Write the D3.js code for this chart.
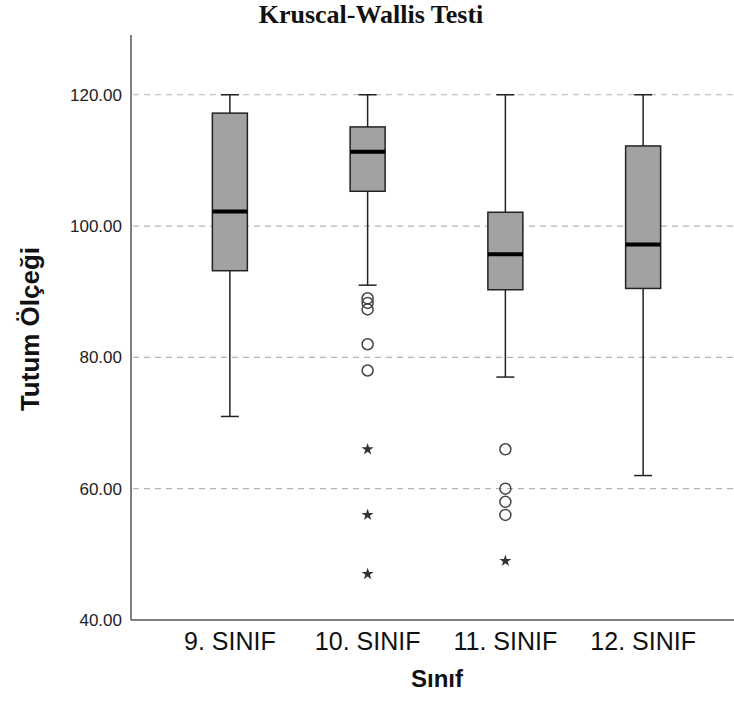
<!DOCTYPE html>
<html>
<head>
<meta charset="utf-8">
<script src="https://cdn.jsdelivr.net/npm/d3@7"></script>
<style>
  body { margin: 0; background: #fff; }
  svg { display: block; }
</style>
</head>
<body>
<div id="chart"></div>
<script>
// data
const categories = ['9. SINIF', '10. SINIF', '11. SINIF', '12. SINIF'];
const whiskerLow = [71, 91, 77, 62];
const q1 = [93.2, 105.3, 90.3, 90.5];
const medians = [102.2, 111.3, 95.7, 97.2];
const q3 = [117.2, 115.1, 102.1, 112.2];
const whiskerHigh = [120, 120, 120, 120];
const outliers = [[], [89, 88.3, 87.3, 82, 78], [66, 60, 58, 56], []];
const extremes = [[], [66, 56, 47], [49], []];
const yTicks = [40, 60, 80, 100, 120];

const width = 734, height = 719;
const svg = d3.select('#chart').append('svg')
    .attr('width', width)
    .attr('height', height);

const x = d3.scaleBand().domain(categories).range([161, 712]).padding(0);
const y = d3.scaleLinear().domain([40, 129.1]).range([620, 35]);
const boxW = 35, capW = 18;

// grid
svg.append('g').selectAll('line')
    .data(yTicks.slice(1))
    .enter().append('line')
    .attr('x1', 133).attr('x2', width)
    .attr('y1', d => y(d)).attr('y2', d => y(d))
    .attr('stroke', '#b4b4b4')
    .attr('stroke-width', 1.2)
    .attr('stroke-dasharray', '6,5');

// y axis
const yAxis = svg.append('g')
    .attr('transform', 'translate(131,0)')
    .call(d3.axisLeft(y).tickValues(yTicks).tickFormat(d3.format('.2f')).tickSize(0).tickPadding(9));
yAxis.select('.domain').remove();
yAxis.selectAll('text')
    .attr('font-family', 'Liberation Sans, Arial, sans-serif')
    .attr('font-size', '17px')
    .attr('fill', '#222');

svg.append('line')
    .attr('x1', 131).attr('x2', 131).attr('y1', 35).attr('y2', 620)
    .attr('stroke', '#555').attr('stroke-width', 1.5);
svg.append('line')
    .attr('x1', 131).attr('x2', width).attr('y1', 620).attr('y2', 620)
    .attr('stroke', '#555').attr('stroke-width', 1.5);

// x axis labels
const xAxis = svg.append('g')
    .attr('transform', 'translate(0,620)')
    .call(d3.axisBottom(x).tickSize(0).tickPadding(12));
xAxis.select('.domain').remove();
xAxis.selectAll('text')
    .attr('font-family', 'Liberation Sans, Arial, sans-serif')
    .attr('font-size', '25px')
    .attr('fill', '#111');

// boxes
const boxes = categories.map((c, i) => ({
    cat: c, lo: whiskerLow[i], q1: q1[i], med: medians[i], q3: q3[i], hi: whiskerHigh[i],
    out: outliers[i], ext: extremes[i]
}));

const g = svg.append('g').selectAll('g')
    .data(boxes)
    .enter().append('g')
    .attr('transform', d => `translate(${x(d.cat) + x.bandwidth() / 2},0)`);

g.append('line')
    .attr('x1', 0).attr('x2', 0)
    .attr('y1', d => y(d.hi)).attr('y2', d => y(d.lo))
    .attr('stroke', '#222').attr('stroke-width', 1.5);
g.append('line')
    .attr('x1', -capW / 2).attr('x2', capW / 2)
    .attr('y1', d => y(d.hi)).attr('y2', d => y(d.hi))
    .attr('stroke', '#222').attr('stroke-width', 1.5);
g.append('line')
    .attr('x1', -capW / 2).attr('x2', capW / 2)
    .attr('y1', d => y(d.lo)).attr('y2', d => y(d.lo))
    .attr('stroke', '#222').attr('stroke-width', 1.5);
g.append('rect')
    .attr('x', -boxW / 2)
    .attr('width', boxW)
    .attr('y', d => y(d.q3))
    .attr('height', d => y(d.q1) - y(d.q3))
    .attr('fill', '#a2a2a2')
    .attr('stroke', '#222')
    .attr('stroke-width', 1.5);
g.append('line')
    .attr('x1', -boxW / 2).attr('x2', boxW / 2)
    .attr('y1', d => y(d.med)).attr('y2', d => y(d.med))
    .attr('stroke', '#000').attr('stroke-width', 4);

g.selectAll('circle')
    .data(d => d.out)
    .enter().append('circle')
    .attr('cx', 0)
    .attr('cy', d => y(d))
    .attr('r', 5.5)
    .attr('fill', 'none')
    .attr('stroke', '#444')
    .attr('stroke-width', 1.5);

g.selectAll('path.star')
    .data(d => d.ext)
    .enter().append('path')
    .attr('class', 'star')
    .attr('transform', d => `translate(0,${y(d)})`)
    .attr('d', d3.symbol(d3.symbolStar, 45))
    .attr('fill', '#333');

// titles
svg.append('text')
    .attr('x', 371).attr('y', 23)
    .attr('text-anchor', 'middle')
    .attr('font-family', 'Liberation Serif, Times New Roman, serif')
    .attr('font-weight', 'bold')
    .attr('font-size', '26px')
    .attr('fill', '#111')
    .text('Kruscal-Wallis Testi');

svg.append('text')
    .attr('transform', 'translate(39,329) rotate(-90)')
    .attr('text-anchor', 'middle')
    .attr('font-family', 'Liberation Sans, Arial, sans-serif')
    .attr('font-weight', 'bold')
    .attr('font-size', '26px')
    .attr('fill', '#111')
    .text('Tutum Ölçeği');

svg.append('text')
    .attr('x', 437).attr('y', 687)
    .attr('text-anchor', 'middle')
    .attr('font-family', 'Liberation Sans, Arial, sans-serif')
    .attr('font-weight', 'bold')
    .attr('font-size', '24px')
    .attr('fill', '#111')
    .text('Sınıf');
</script>
</body>
</html>
